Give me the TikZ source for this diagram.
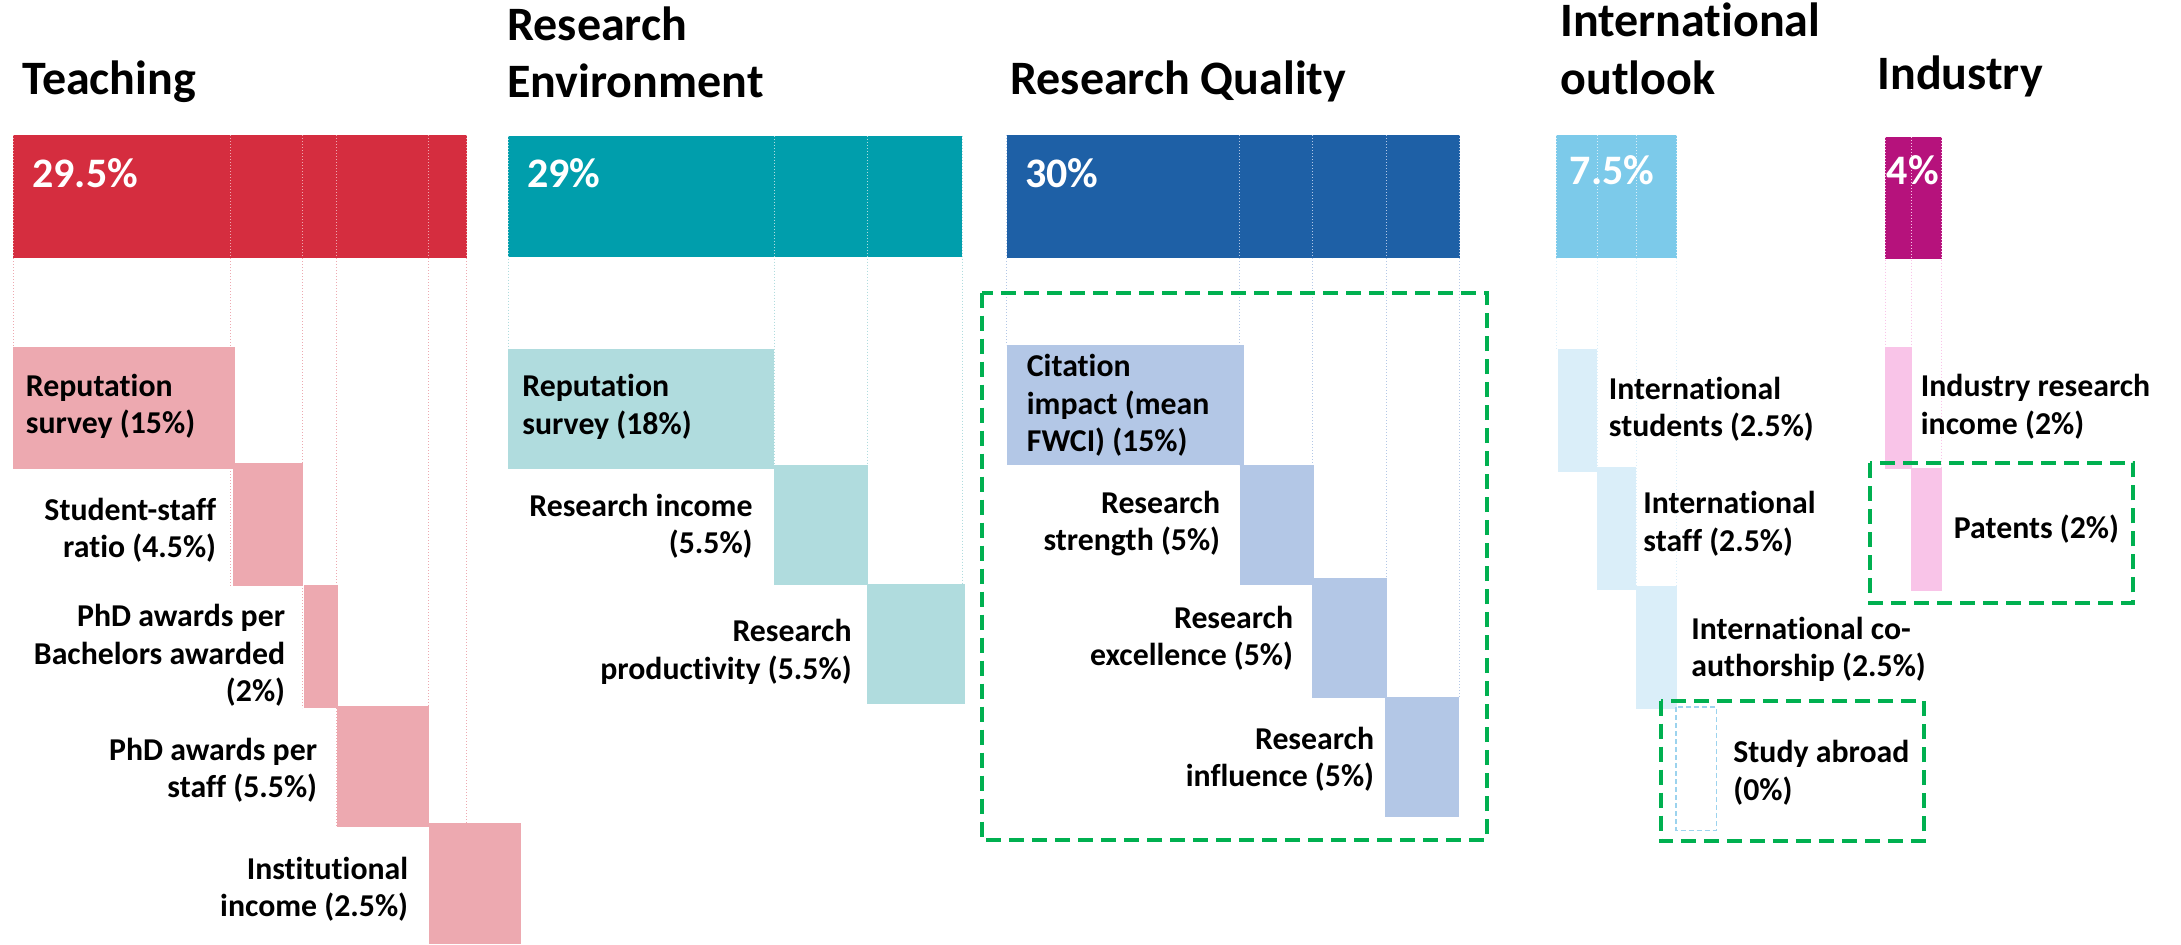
\documentclass[tikz,border=0pt]{standalone}
\usepackage{fontspec}
\setmainfont{Carlito}[Ligatures={NoCommon}]
\definecolor{tred}{HTML}{D52D3F}
\definecolor{tredl}{HTML}{EDA9B0}
\definecolor{teala}{HTML}{009EAC}
\definecolor{teall}{HTML}{B0DCDE}
\definecolor{qblue}{HTML}{1E60A6}
\definecolor{qbluel}{HTML}{B3C7E6}
\definecolor{sky}{HTML}{7CCAEA}
\definecolor{skyl}{HTML}{DAEEF9}
\definecolor{skyd}{HTML}{9CD3EE}
\definecolor{mag}{HTML}{B6127C}
\definecolor{magl}{HTML}{F9C4E8}
\definecolor{ogreen}{HTML}{00B050}
\tikzset{
  ttl/.style={font=\fontsize{24}{28.7}\selectfont\bfseries, inner sep=0pt, anchor=base west, text width=300pt, align=flush left},
  pct/.style={font=\fontsize{21}{25}\selectfont\bfseries, text=white, inner sep=0pt, anchor=base west},
  lblL/.style={font=\fontsize{15.9}{18.7}\selectfont\bfseries, inner sep=0pt, anchor=base west, text width=170pt, align=flush left},
  lblR/.style={font=\fontsize{15.9}{18.7}\selectfont\bfseries, inner sep=0pt, anchor=base east, text width=170pt, align=flush right},
  divider/.style={line width=0.5pt, dash pattern=on 0.6pt off 0.9pt},
  greenbox/.style={draw=ogreen, line width=2pt, dash pattern=on 7.5pt off 4pt},
  zerobox/.style={draw=skyd, line width=0.6pt, dash pattern=on 2.5pt off 1.5pt},
}
\begin{document}
\begin{tikzpicture}[x=0.5pt, y=-0.5pt]
\useasboundingbox (0,0) rectangle (2181,944);
\fill[white] (0,0) rectangle (2181,944);

% ---------- titles ----------
\node[ttl] (tTeach) at (22,94.3) {Teaching};
\node[ttl] (tEnv) at (507,40) {Research\\Environment};
\node[ttl] (tQual) at (1010,94.3) {Research Quality};
\node[ttl] (tIntl) at (1560,36.7) {International\\outlook};
\node[ttl] (tInd) at (1877,89.3) {Industry};

% ---------- top bars ----------
\fill[tred] (13,135) rectangle (466.6,257.7);
\fill[teala] (508.3,135.6) rectangle (962,257.4);
\fill[qblue] (1006.5,135) rectangle (1459.6,257.7);
\fill[sky] (1556,135) rectangle (1676.7,257.7);
\fill[mag] (1885,136.7) rectangle (1941.7,259.3);

% ---------- dotted column dividers ----------
\foreach \x/\e in {13/347,230.7/586,302/708,336.4/827,428/706,466.6/823}
  \draw[divider, tredl] (\x,135) -- (\x,\e);
\foreach \x/\e in {508.3/349,774/465,867.3/465,962/584}
  \draw[divider, teall] (\x,135.6) -- (\x,\e);
\foreach \x/\e in {1006.5/345,1239.6/465,1312/578,1386/697,1459.6/697}
  \draw[divider, qbluel] (\x,135) -- (\x,\e);
\foreach \x/\e in {1556/349,1597.7/467,1636.7/586,1676.7/586}
  \draw[divider, skyl] (\x,135) -- (\x,\e);
\foreach \x/\e in {1885/346.7,1911.7/467.7,1941.7/467.7}
  \draw[divider, magl] (\x,136.7) -- (\x,\e);

% ---------- percentages ----------
\node[pct] (pTeach) at (32,187.3) {29.5\%};
\node[pct] (pEnv) at (527,187) {29\%};
\node[pct] (pQual) at (1025,187.3) {30\%};
\node[pct] (pIntl) at (1569.5,184) {7.5\%};
\node[pct] (pInd) at (1886.5,184) {4\%};

% ---------- Teaching sub-bars ----------
\fill[tredl] (13,347.3) rectangle (234.8,469.3);
\fill[tredl] (233,462.7) rectangle (302.7,585.7);
\fill[tredl] (304,585) rectangle (337.5,708);
\fill[tredl] (336.8,706) rectangle (428.7,826.7);
\fill[tredl] (429,822.7) rectangle (520.7,944);
\node[lblL] (tRep) at (25.5,396) {Reputation\\survey (15\%)};
\node[lblR] (tSSR) at (216.5,520) {Student-staff\\ratio (4.5\%)};
\node[lblR] (tPhB) at (285.5,626.7) {PhD awards per\\Bachelors awarded\\(2\%)};
\node[lblR] (tPhS) at (317.5,760) {PhD awards per\\staff (5.5\%)};
\node[lblR] (tInc) at (408.5,879) {Institutional\\income (2.5\%)};

% ---------- Research Environment sub-bars ----------
\fill[teall] (508.3,349) rectangle (774,468.5);
\fill[teall] (774,465) rectangle (867.7,584.8);
\fill[teall] (867,583.6) rectangle (965,703.8);
\node[lblL] (eRep) at (522,396.6) {Reputation\\survey (18\%)};
\node[lblR] (eInc) at (753,516.4) {Research income\\(5.5\%)};
\node[lblR] (eProd) at (852,641.7) {Research\\productivity (5.5\%)};

% ---------- Research Quality sub-bars ----------
\fill[qbluel] (1006.5,345) rectangle (1243.7,465);
\fill[qbluel] (1239.6,465) rectangle (1314,585);
\fill[qbluel] (1312,577.7) rectangle (1387,697.7);
\fill[qbluel] (1385.3,696.7) rectangle (1459.3,816.7);
\node[lblL] (qCit) at (1026.5,376.7) {Citation\\impact (mean\\FWCI) (15\%)};
\node[lblR] (qStr) at (1220.5,513.3) {Research\\strength (5\%)};
\node[lblR] (qExc) at (1293.5,628.3) {Research\\excellence (5\%)};
\node[lblR] (qInf) at (1374.5,749.3) {Research\\influence (5\%)};

% ---------- International outlook sub-bars ----------
\fill[skyl] (1557.8,349) rectangle (1596.9,471.8);
\fill[skyl] (1596.9,467) rectangle (1636,589.8);
\fill[skyl] (1636,585.6) rectangle (1677.2,708.8);
\draw[zerobox] (1676,707) rectangle (1716.3,830.3);
\node[lblL] (iStu) at (1608.5,399) {International\\students (2.5\%)};
\node[lblL] (iStaff) at (1643,513.8) {International\\staff (2.5\%)};
\node[lblL] (iCo) at (1691,639.4) {International co-\\authorship (2.5\%)};
\node[lblL] (iAbr) at (1733,762.6) {Study abroad\\(0\%)};

% ---------- Industry sub-bars ----------
\fill[magl] (1884.5,346.7) rectangle (1911.8,469.4);
\fill[magl] (1911,467.7) rectangle (1942.2,590.8);
\node[lblL] (dInc) at (1920.5,396.7) {Industry research\\income (2\%)};
\node[lblL] (dPat) at (1953.5,538.8) {Patents (2\%)};

% ---------- green dashed highlight boxes ----------
\draw[greenbox] (981.7,292.7) rectangle (1486.5,840);
\draw[greenbox] (1870,463) rectangle (2133.4,603);
\draw[greenbox] (1660.7,700.5) rectangle (1923.5,841.4);
\end{tikzpicture}
\end{document}
